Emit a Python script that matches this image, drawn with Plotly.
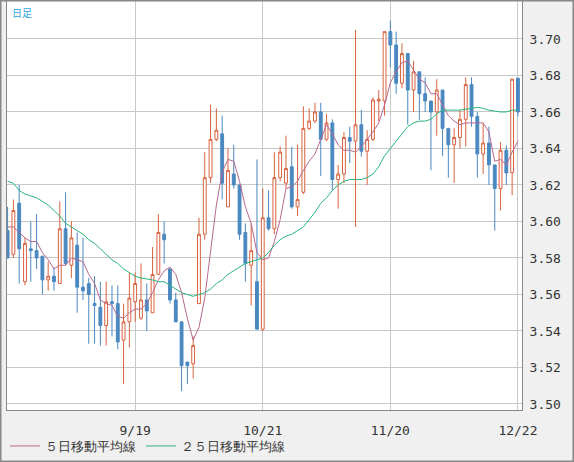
import plotly.graph_objects as go

# daily candles, index 0..88 (trading days)
opens = [3.595, 3.582, 3.610, 3.567, 3.585, 3.584, 3.581, 3.568, 3.570, 3.566,
         3.596, 3.576, 3.587, 3.564, 3.566, 3.555, 3.553, 3.543, 3.556, 3.555,
         3.535, 3.545, 3.556, 3.547, 3.557, 3.550, 3.571, 3.593, 3.574, 3.557,
         3.545, 3.523, 3.522, 3.555, 3.593, 3.624, 3.645, 3.648, 3.608, 3.626,
         3.620, 3.594, 3.576, 3.567, 3.541, 3.602, 3.596, 3.624, 3.621, 3.630,
         3.608, 3.616, 3.651, 3.655, 3.660, 3.645, 3.654, 3.623, 3.626, 3.646,
         3.644, 3.653, 3.6385, 3.645, 3.666, 3.666, 3.704, 3.6967, 3.6757, 3.692,
         3.672, 3.682, 3.670, 3.666, 3.660, 3.672, 3.651, 3.642, 3.646, 3.656,
         3.675, 3.6576, 3.637, 3.643, 3.631, 3.618, 3.639, 3.6268, 3.6785]
highs = [3.608, 3.612, 3.620, 3.591, 3.600, 3.604, 3.581, 3.578, 3.575, 3.611,
         3.616, 3.600, 3.594, 3.591, 3.569, 3.570, 3.567, 3.567, 3.565, 3.565,
         3.555, 3.572, 3.572, 3.577, 3.566, 3.586, 3.604, 3.600, 3.574, 3.561,
         3.545, 3.523, 3.537, 3.602, 3.638, 3.664, 3.662, 3.658, 3.640, 3.642,
         3.620, 3.599, 3.599, 3.634, 3.618, 3.617, 3.638, 3.641, 3.647, 3.641,
         3.642, 3.663, 3.662, 3.665, 3.665, 3.659, 3.656, 3.631, 3.649, 3.652,
         3.705, 3.661, 3.650, 3.668, 3.672, 3.704, 3.710, 3.704, 3.6976, 3.692,
         3.688, 3.682, 3.679, 3.666, 3.678, 3.672, 3.651, 3.651, 3.661, 3.679,
         3.679, 3.660, 3.6536, 3.652, 3.631, 3.6435, 3.6417, 3.678, 3.6785]
lows = [3.580, 3.580, 3.566, 3.565, 3.567, 3.574, 3.560, 3.562, 3.562, 3.566,
        3.576, 3.569, 3.550, 3.557, 3.533, 3.533, 3.532, 3.532, 3.537, 3.530,
        3.511, 3.531, 3.545, 3.546, 3.540, 3.550, 3.571, 3.577, 3.555, 3.545,
        3.507, 3.511, 3.514, 3.555, 3.590, 3.621, 3.644, 3.612, 3.608, 3.618,
        3.590, 3.567, 3.554, 3.541, 3.540, 3.595, 3.593, 3.622, 3.618, 3.607,
        3.603, 3.615, 3.650, 3.654, 3.625, 3.644, 3.617, 3.607, 3.621, 3.632,
        3.597, 3.6356, 3.620, 3.644, 3.655, 3.658, 3.6845, 3.670, 3.673, 3.653,
        3.660, 3.6557, 3.660, 3.628, 3.647, 3.636, 3.624, 3.621, 3.640, 3.641,
        3.652, 3.624, 3.626, 3.620, 3.595, 3.606, 3.620, 3.6144, 3.6576]
closes = [3.580, 3.606, 3.585, 3.588, 3.584, 3.580, 3.568, 3.570, 3.567, 3.596,
          3.577, 3.591, 3.564, 3.562, 3.560, 3.554, 3.543, 3.556, 3.555, 3.534,
          3.545, 3.558, 3.566, 3.557, 3.551, 3.571, 3.594, 3.590, 3.557, 3.545,
          3.521, 3.521, 3.532, 3.593, 3.624, 3.645, 3.650, 3.621, 3.628, 3.620,
          3.593, 3.577, 3.584, 3.541, 3.602, 3.596, 3.624, 3.638, 3.629, 3.608,
          3.612, 3.651, 3.655, 3.660, 3.645, 3.654, 3.623, 3.626, 3.646, 3.644,
          3.653, 3.6385, 3.645, 3.6666, 3.667, 3.704, 3.6967, 3.6757, 3.692, 3.672,
          3.682, 3.670, 3.666, 3.660, 3.672, 3.651, 3.642, 3.646, 3.656, 3.675,
          3.6576, 3.637, 3.643, 3.631, 3.618, 3.639, 3.6266, 3.678, 3.660]
ma5 = [3.597, 3.597, 3.594, 3.591, 3.589, 3.589, 3.583, 3.579, 3.574, 3.576,
       3.576, 3.580, 3.579, 3.578, 3.571, 3.566, 3.557, 3.555, 3.554, 3.548,
       3.547, 3.550, 3.552, 3.552, 3.555, 3.561, 3.568, 3.573, 3.575, 3.571,
       3.561, 3.547, 3.535, 3.542, 3.558, 3.583, 3.609, 3.627, 3.634, 3.633,
       3.622, 3.608, 3.599, 3.583, 3.579, 3.580, 3.589, 3.601, 3.618, 3.619,
       3.622, 3.628, 3.633, 3.637, 3.645, 3.653, 3.648, 3.642, 3.639, 3.639,
       3.638, 3.641, 3.645, 3.649, 3.654, 3.664, 3.676, 3.682, 3.687, 3.688,
       3.683, 3.678, 3.676, 3.670, 3.670, 3.664, 3.658, 3.655, 3.653, 3.654,
       3.654, 3.654, 3.654, 3.649, 3.633, 3.634, 3.631, 3.638, 3.644]
ma25 = [3.622, 3.621, 3.617, 3.615, 3.614, 3.613, 3.611, 3.609, 3.606, 3.603,
        3.599, 3.597, 3.595, 3.593, 3.590, 3.588, 3.585, 3.582, 3.579, 3.577,
        3.574, 3.572, 3.570, 3.569, 3.5685, 3.568, 3.567, 3.567, 3.565, 3.563,
        3.561, 3.560, 3.559, 3.560, 3.561, 3.563, 3.566, 3.568, 3.571, 3.573,
        3.575, 3.577, 3.578, 3.579, 3.580, 3.583, 3.587, 3.590, 3.592, 3.593,
        3.595, 3.597, 3.601, 3.605, 3.610, 3.613, 3.617, 3.620, 3.622, 3.623,
        3.623, 3.623, 3.624, 3.626, 3.630, 3.636, 3.640, 3.644, 3.648, 3.652,
        3.654, 3.655, 3.655, 3.656, 3.659, 3.661, 3.661, 3.661, 3.661, 3.6615,
        3.662, 3.6625, 3.662, 3.661, 3.6605, 3.660, 3.660, 3.661, 3.661]
tick_pos = [22, 44, 66, 88]
tick_text = ["9/19", "10/21", "11/20", "12/22"]
y_ticks = [3.50, 3.52, 3.54, 3.56, 3.58, 3.60, 3.62, 3.64, 3.66, 3.68, 3.70]

idx = list(range(len(closes)))
font = "DejaVu Sans Mono"

fig = go.Figure()
fig.add_trace(go.Candlestick(
    x=idx, open=opens, high=highs, low=lows, close=closes,
    increasing=dict(line=dict(color="#d8623e", width=1), fillcolor="white"),
    decreasing=dict(line=dict(color="#4a88c0", width=1), fillcolor="#4a88c0"),
    whiskerwidth=0, showlegend=False, hoverinfo="skip"))
fig.add_trace(go.Scatter(x=idx, y=ma5, mode="lines", name="５日移動平均線",
                         line=dict(color="#b86890", width=1)))
fig.add_trace(go.Scatter(x=idx, y=ma25, mode="lines", name="２５日移動平均線",
                         line=dict(color="#2ab57a", width=1)))

W, L, R, T, B = 574, 7, 52, 1, 52
pw, ph = W - L - R, 462 - T - B

fig.update_layout(
    width=574, height=462,
    margin=dict(l=L, r=R, t=T, b=B, autoexpand=False),
    paper_bgcolor="#f0f0f0", plot_bgcolor="white",
    font=dict(family=font, size=13, color="#333"),
    xaxis=dict(range=[-0.1, 88.7], tickvals=tick_pos, ticktext=tick_text,
               showgrid=True, gridcolor="#c8c8c8", zeroline=False,
               rangeslider=dict(visible=False), ticks="", ticklabelstandoff=8,
               showline=True, linecolor="#888", mirror=True, automargin=False),
    yaxis=dict(range=[3.4967, 3.7208], side="right", tickvals=y_ticks,
               tickformat=".2f", showgrid=True, gridcolor="#c8c8c8",
               zeroline=False, ticks="", showline=True, linecolor="#888",
               mirror=True, automargin=False, ticklabelstandoff=4),
    legend=dict(orientation="h", x=-2 / pw, y=-36 / ph, yanchor="middle",
                xanchor="left", bgcolor="rgba(0,0,0,0)",
                font=dict(size=13, color="#333"), itemwidth=30),
    annotations=[dict(text="日足", xref="paper", yref="paper", x=0.005, y=0.995,
                      xanchor="left", yanchor="top", showarrow=False,
                      font=dict(size=10, color="#2aa6dc", family="Noto Sans CJK JP"))],
    shapes=[dict(type="rect", xref="paper", yref="paper",
                 x0=-L / pw + 0.001, x1=1 + R / pw - 0.001,
                 y0=-B / ph + 0.001, y1=1 + T / ph - 0.001,
                 line=dict(color="#888", width=2))],
)

fig.write_html("out.html", config={"displayModeBar": False},
               post_script="document.body.style.margin='0';"
                           "document.body.style.overflow='hidden';")
